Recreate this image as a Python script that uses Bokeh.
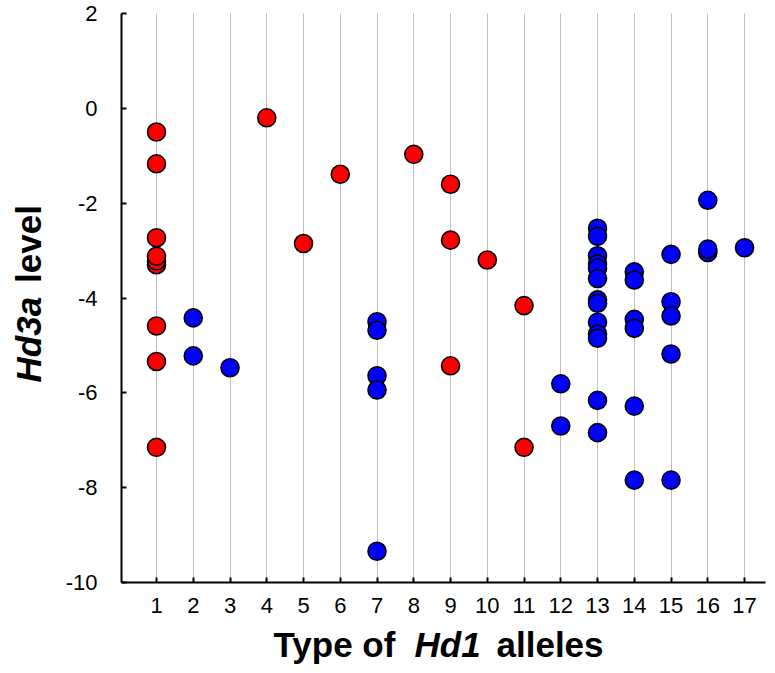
import math
from bokeh.plotting import figure
from bokeh.models import FixedTicker, Range1d
from bokeh.core.properties import value
from bokeh.layouts import column, row
from bokeh.embed import file_html
from bokeh.resources import INLINE

# ---- data ----
red_x = [1, 1, 1, 1, 1, 1, 1, 1, 1, 4, 5, 6, 8, 9, 9, 9, 10, 11, 11]
red_y = [-0.50, -1.17, -2.73, -3.30, -3.22, -3.12, -4.59, -5.34, -7.15,
         -0.20, -2.85, -1.39, -0.97, -1.60, -2.78, -5.43, -3.20, -4.16, -7.15]

blue_x = [2, 2, 3,
          7, 7, 7, 7, 7,
          12, 12,
          13, 13, 13, 13, 13, 13, 13, 13, 13, 13, 13, 13, 13,
          14, 14, 14, 14, 14, 14,
          15, 15, 15, 15, 15,
          16, 16, 16,
          17]
blue_y = [-4.42, -5.22, -5.47,
          -4.50, -4.68, -5.64, -5.94, -9.34,
          -5.81, -6.70,
          -2.53, -2.70, -3.11, -3.28, -3.37, -3.59, -4.04, -4.11, -4.51, -4.76, -4.85, -6.16, -6.84,
          -3.45, -3.62, -4.45, -4.64, -6.28, -7.84,
          -3.08, -4.08, -4.38, -5.18, -7.84,
          -1.94, -3.04, -2.97,
          -2.94]

x_ticks = list(range(1, 18))
y_ticks = [-10, -8, -6, -4, -2, 0, 2]
y_tick_labels = {t: str(t) for t in y_ticks}

FONT = "Liberation Sans"

# ---- layout sizes (px) ----
TOTAL_W, TOTAL_H = 775, 673
YLAB_W = 56                      # left strip holding the y-axis title
MAIN_W = TOTAL_W - YLAB_W        # 719
B_LEFT, B_TOP, B_RIGHT, B_BOTTOM = 65, 13, 10, 41
FRAME_W = MAIN_W - B_LEFT - B_RIGHT   # 644
FRAME_H = 569
MAIN_H = B_TOP + FRAME_H + B_BOTTOM   # 623
XLAB_H = TOTAL_H - MAIN_H             # 50

X0, X1 = 0.0476, 17.57
Y0, Y1 = -10, 2

p = figure(width=MAIN_W, height=MAIN_H, x_range=Range1d(X0, X1), y_range=Range1d(Y0, Y1),
           output_backend="svg", toolbar_location=None,
           min_border_left=B_LEFT, min_border_top=B_TOP,
           min_border_right=B_RIGHT, min_border_bottom=B_BOTTOM)
p.outline_line_color = None

p.xaxis.ticker = FixedTicker(ticks=x_ticks)
p.yaxis.ticker = FixedTicker(ticks=y_ticks)
p.yaxis.major_label_overrides = y_tick_labels
for ax in (p.xaxis, p.yaxis):
    ax.axis_line_width = 2
    ax.axis_line_color = "black"
    ax.major_tick_line_width = 2
    ax.major_tick_line_color = "black"
    ax.major_tick_in = 5
    ax.major_tick_out = 0
    ax.minor_tick_line_color = None
    ax.major_label_text_font = FONT
    ax.major_label_text_font_size = "22px"
    ax.major_label_text_color = "black"
p.yaxis.major_label_standoff = 24
p.xaxis.major_label_standoff = 15

p.ygrid.grid_line_color = None
p.xgrid.ticker = FixedTicker(ticks=x_ticks)
p.xgrid.grid_line_color = "#808080"
p.xgrid.grid_line_dash = "1 1"
p.xgrid.grid_line_width = 1

p.scatter(red_x, red_y, size=18, fill_color="#FF0000", line_color="black", line_width=1.6)
p.scatter(blue_x, blue_y, size=18, fill_color="#0000FF", line_color="black", line_width=1.6)


def text_strip(w, h):
    f = figure(width=w, height=h, x_range=Range1d(0, w), y_range=Range1d(0, h),
               output_backend="svg", toolbar_location=None,
               x_axis_location=None, y_axis_location=None,
               min_border=0, min_border_left=0, min_border_right=0,
               min_border_top=0, min_border_bottom=0)
    f.outline_line_color = None
    f.grid.visible = False
    return f


def put(f, h, text, px, py, style, angle=0.0, size="35px"):
    # px, py: pixel position of the text anchor in the strip (py from top)
    f.text(x=[px], y=[h - py], text=[text], angle=angle,
           text_font=value(FONT), text_font_size=value(size),
           text_font_style=value(style), text_color="black",
           text_align="left", text_baseline="alphabetic")


# y-axis title strip: "Hd3a level" (reads bottom to top)
ylab = text_strip(YLAB_W, MAIN_H)
put(ylab, MAIN_H, "Hd3a", 28, 404, "bold italic", math.pi / 2)
put(ylab, MAIN_H, "level", 28, 295, "bold", math.pi / 2)

# x-axis title strip: "Type of Hd1 alleles"
xlab = text_strip(TOTAL_W, XLAB_H)
base = 644 - MAIN_H
put(xlab, XLAB_H, "Type of", 273, base, "bold")
put(xlab, XLAB_H, "Hd1", 414, base, "bold italic")
put(xlab, XLAB_H, "alleles", 496, base, "bold")

layout = column(row(ylab, p, spacing=0), xlab, spacing=0)

open("out.html", "w").write(file_html(layout, INLINE))
